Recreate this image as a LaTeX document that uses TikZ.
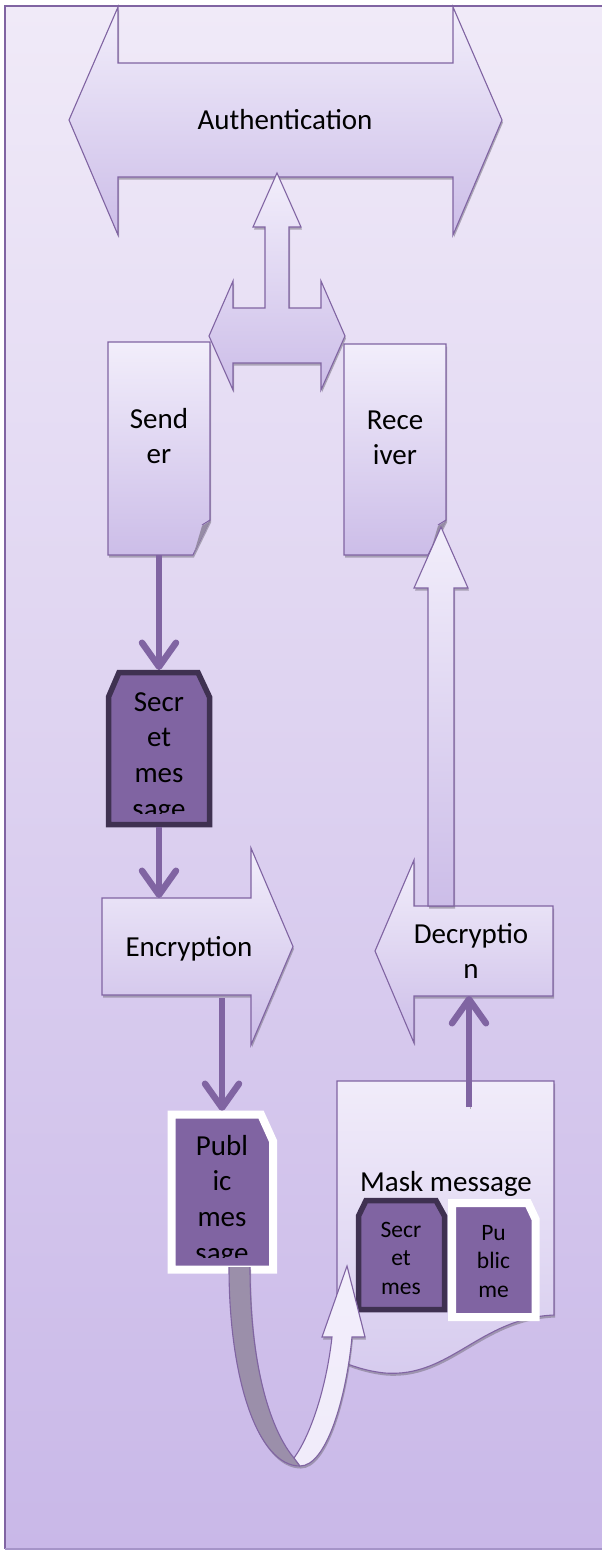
\documentclass[tikz,border=0pt]{standalone}
\usepackage{fontspec}
\setmainfont{Carlito}
\usetikzlibrary{arrows.meta,shadows}

\definecolor{bgtop}{RGB}{240,234,248}
\definecolor{bgbot}{RGB}{201,184,232}
\definecolor{edge}{RGB}{128,100,162}
\definecolor{bgline}{RGB}{165,148,200}
\definecolor{shtop}{RGB}{242,238,251}
\definecolor{shbot}{RGB}{204,189,232}
\definecolor{masktop}{RGB}{241,236,250}
\definecolor{maskbot}{RGB}{214,203,238}
\definecolor{deep}{RGB}{128,100,162}
\definecolor{deepedge}{RGB}{63,49,81}
\definecolor{shadowcol}{RGB}{120,114,130}
\definecolor{backband}{RGB}{155,143,170}
\definecolor{foldgray}{RGB}{150,140,165}

\newcommand\txtstack[1]{\begin{tabular}[t]{@{}c@{}}#1\end{tabular}}

\tikzset{
  frame/.style={inner sep=0pt, outer sep=0pt},
  softshadow/.style={drop shadow={shadow xshift=1pt, shadow yshift=-2.5pt, opacity=.55, fill=shadowcol}},
  box/.style={draw=edge, line width=1.1pt, line join=miter, top color=shtop, bottom color=shbot, softshadow},
  tag/.style={fill=deep, draw=deepedge, line width=5.5pt, line join=miter},
  whitetag/.style={fill=deep, draw=white, line width=8pt, line join=miter, softshadow},
  conn/.style={draw=edge, line width=6.5pt, -{Straight Barb[length=24pt,width=34pt,round]},
    preaction={draw=shadowcol, opacity=.5, transform canvas={shift={(1pt,-2pt)}}}},
  txt/.style={frame, anchor=base, font=\fontsize{29}{35.7}\selectfont},
  smalltxt/.style={frame, anchor=base, font=\fontsize{23.5}{28.7}\selectfont},
}

\begin{document}
\begin{tikzpicture}[x=1pt, y=-1pt]
\useasboundingbox (0,0) rectangle (602,1551);
\fill[white] (0,0) rectangle (602,1551);

% page background panel
\shade[top color=bgtop, bottom color=bgbot] (5,6) rectangle (615,1549);
\draw[edge, line width=1.5pt] (5,1549) -- (5,6) -- (615,6);
\draw[bgline, line width=1.2pt] (5,1549) -- (615,1549);

% frames used as anchors
\node[frame, minimum width=335pt, minimum height=114pt] (auth) at (285.5,120) {};
\node[frame, minimum width=136pt, minimum height=217pt] (hub) at (277,281.5) {};
\node[frame, minimum width=102pt, minimum height=213pt] (sender) at (159,448.5) {};
\node[frame, minimum width=102pt, minimum height=211pt] (receiver) at (395,449.5) {};
\node[frame, minimum width=106pt, minimum height=157pt] (secret) at (159,748.5) {};
\node[frame, minimum width=149pt, minimum height=97pt] (encrypt) at (176.5,946.5) {};
\node[frame, minimum width=139pt, minimum height=90pt] (decrypt) at (483.5,951) {};
\node[frame, minimum width=110pt, minimum height=162pt] (public) at (222,1192) {};
\node[frame, minimum width=217pt, minimum height=280pt] (mask) at (445.5,1221) {};
\node[frame, minimum width=91pt, minimum height=114pt] (minisecret) at (401.5,1255) {};
\node[frame, minimum width=91pt, minimum height=122pt] (minipublic) at (493.5,1260) {};
\coordinate (maskstart) at (469,1107);

% authentication double arrow
\path[box] (69,120) -- (118,7) -- (118,63) -- (453,63) -- (453,7) -- (502,120)
  -- (453,235) -- (453,177) -- (118,177) -- (118,235) -- cycle;

% left-right-up arrow between sender and receiver
\path[box] (277,173) -- (301,227) -- (289,227) -- (289,308) -- (321,308) -- (321,281)
  -- (345,336) -- (321,390) -- (321,363) -- (233,363) -- (233,390) -- (209,336)
  -- (233,281) -- (233,308) -- (265,308) -- (265,227) -- (253,227) -- cycle;

% sender and receiver documents
\path[box] (108,342) -- (210,342) -- (210,520) -- (193,555) -- (108,555) -- cycle;
\fill[foldgray] (210,521) -- (202,526) -- (194,553) -- cycle;
\draw[edge, line width=1pt] (210,520) -- (202,525);
\path[box] (344,344) -- (446,344) -- (446,520) -- (428,555) -- (344,555) -- cycle;
\fill[foldgray] (446,521) -- (438,526) -- (430,553) -- cycle;
\draw[edge, line width=1pt] (446,520) -- (438,525);

% secret message tag
\draw[conn] (sender.south) -- (secret.north);
\path[tag] (119,672.5) -- (198,672.5) -- (209.5,697) -- (209.5,824.5) -- (108.5,824.5)
  -- (108.5,697) -- cycle;
\draw[conn] (secret.south) -- (secret.south |- encrypt.north);

% encryption / decryption arrows
\path[box] (102,898) -- (251,898) -- (251,848) -- (293,946.5) -- (251,1045) -- (251,995)
  -- (102,995) -- cycle;
\path[box] (553,906) -- (414,906) -- (414,860) -- (375,951) -- (414,1043) -- (414,996)
  -- (553,996) -- cycle;
\path[box] (441,527) -- (468,588) -- (454,588) -- (454,906) -- (428,906) -- (428,588)
  -- (414,588) -- cycle;

% public message
\draw[conn, shorten <=3pt] (public.north |- encrypt.south) -- (public.north);
\path[whitetag] (171.5,1114.5) -- (261,1114.5) -- (273,1141) -- (273,1269.5)
  -- (171.5,1269.5) -- cycle;

% mask message document
\path[box, top color=masktop, bottom color=maskbot] (337,1081) -- (554,1081) -- (554,1315)
  .. controls (480,1318) and (450,1378) .. (385,1373)
  .. controls (365,1371) and (350,1365) .. (337,1360) -- cycle;
\draw[conn] (maskstart) -- (maskstart |- decrypt.south);
\path[tag] (366,1200.5) -- (436,1200.5) -- (444.5,1216) -- (444.5,1309.5) -- (358.5,1309.5)
  -- (358.5,1216) -- cycle;
\path[whitetag] (452,1203) -- (528,1203) -- (535.5,1219) -- (535.5,1317) -- (452,1317) -- cycle;

% u-turn arrow from public message into the mask
\path[fill=backband, softshadow] (229,1267) .. controls (229,1380) and (258,1466) .. (300,1466)
  -- (294,1458) .. controls (272,1432) and (250,1370) .. (250,1267) -- cycle;
\draw[edge, line width=1.1pt] (229,1267) .. controls (229,1380) and (258,1466) .. (300,1466);
\draw[edge, line width=1.1pt] (294,1458) .. controls (272,1432) and (250,1370) .. (250,1267);
\path[box, top color=shtop, bottom color=masktop] (294,1458) .. controls (310,1436) and (326,1390) .. (332,1337)
  -- (322,1337) -- (347,1266) -- (365,1337) -- (352,1337)
  .. controls (346,1400) and (326,1466) .. (300,1466) -- cycle;

% labels
\node[txt] (authlabel) at (285,129) {Authentication};
\node[txt] (senderlabel) at (159,428) {\txtstack{Send\\er}};
\node[txt] (receiverlabel) at (395,429) {\txtstack{Rece\\iver}};
\begin{scope}
  \clip (100,660) rectangle (220,813);
  \node[txt] (secretlabel) at (159,711) {\txtstack{Secr\\et\\mes\\sage}};
\end{scope}
\node[txt] (encryptlabel) at (189,956) {Encryption};
\node[txt] (decryptlabel) at (471,943) {\txtstack{Decryptio\\n}};
\begin{scope}
  \clip (160,1100) rectangle (285,1257);
  \node[txt] (publiclabel) at (222,1155) {\txtstack{Publ\\ic\\mes\\sage}};
\end{scope}
\node[txt] (masklabel) at (446,1191) {Mask message};
\node[smalltxt] (minisecretlabel) at (401,1237) {\txtstack{Secr\\et\\mes}};
\node[smalltxt] (minipubliclabel) at (493.5,1240) {\txtstack{Pu\\blic\\me}};
\end{tikzpicture}
\end{document}
